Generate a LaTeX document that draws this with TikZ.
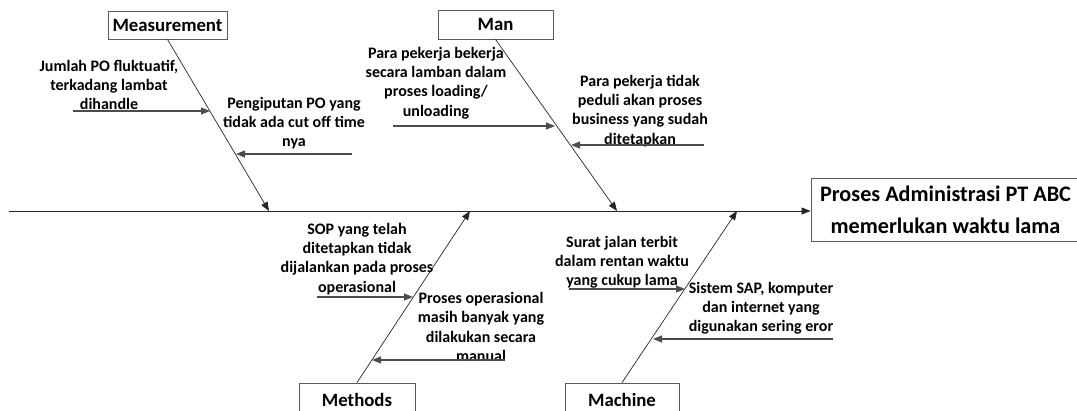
\documentclass[tikz,border=0pt]{standalone}
\usepackage{fontspec}
\setmainfont{Carlito}
\usetikzlibrary{arrows.meta,calc}
\begin{document}
\begin{tikzpicture}[x=1pt,y=-1pt,
  box/.style={draw=black!65, line width=0.8pt, inner sep=0pt, font=\bfseries\fontsize{18.8}{22}\selectfont},
  cause/.style={align=center, inner sep=0pt, font=\bfseries\fontsize{16}{19.2}\selectfont},
  bone/.style={draw=black!85, line width=0.7pt, -{Triangle[length=9pt,width=7pt]}},
  sub/.style={draw=black!70, line width=1.1pt, -{Triangle[length=9pt,width=7pt]}}]
\useasboundingbox (0,0) rectangle (1077,411);

% boxes
\node[box, minimum width=119pt, minimum height=28pt] (meas) at (167.5,25) {Measurement};
\node[box, minimum width=115pt, minimum height=29pt] (man) at (495.5,24.5) {Man};
\node[box, minimum width=116pt, minimum height=34pt] (meth) at (357,400) {Methods};
\node[box, minimum width=114pt, minimum height=34pt] (mach) at (622,400) {Machine};
\node[box, minimum width=269pt, minimum height=63pt, align=center,
      font=\bfseries\fontsize{22.2}{32}\selectfont] (head) at (945.5,209.5)
      {Proses Administrasi PT ABC\\memerlukan waktu lama};

% spine
\coordinate (s0) at (9,211);
\draw[bone] (s0) -- (s0 -| head.west);

% bones
\coordinate (mt) at (269,211);
\coordinate (nt) at (617,211);
\coordinate (et) at (470,211);
\coordinate (ct) at (737,211);
\draw[bone] (meas.south) -- (mt);
\draw[bone] (man.south) -- (nt);
\draw[bone] (meth.north) -- (et);
\draw[bone] (mach.north) -- (ct);

% cause texts
\node[cause] (t1) at (109,85) {Jumlah PO fluktuatif,\\terkadang lambat\\dihandle};
\node[cause] (t2) at (294,123) {Pengiputan PO yang\\tidak ada cut off time\\nya};
\node[cause] (t3) at (436,83) {Para pekerja bekerja\\secara lamban dalam\\proses loading/\\unloading};
\node[cause] (t4) at (640,111) {Para pekerja tidak\\peduli akan proses\\business yang sudah\\ditetapkan};
\node[cause] (t5) at (357,259) {SOP yang telah\\ditetapkan tidak\\dijalankan pada proses\\operasional};
\node[cause] (t6) at (481,327) {Proses operasional\\masih banyak yang\\dilakukan secara\\manual};
\node[cause] (t7) at (622,262) {Surat jalan terbit\\dalam rentan waktu\\yang cukup lama};
\node[cause] (t8) at (761,308) {Sistem SAP, komputer\\dan internet yang\\digunakan sering eror};

% cause arrows
\coordinate (a1s) at (73,111);  \coordinate (a1e) at (210,111);
\coordinate (a2s) at (352,154); \coordinate (a2e) at (236,154);
\coordinate (a3s) at (393,126); \coordinate (a3e) at (555,126);
\coordinate (a4s) at (704,145); \coordinate (a4e) at (571,145);
\coordinate (a5s) at (317,297); \coordinate (a5e) at (413,297);
\coordinate (a6s) at (505,360); \coordinate (a6e) at (372,360);
\coordinate (a7s) at (569,289); \coordinate (a7e) at (685,289);
\coordinate (a8s) at (833,339); \coordinate (a8e) at (653,339);
\foreach \i in {1,...,8} \draw[sub] (a\i s) -- (a\i e);
\end{tikzpicture}
\end{document}
